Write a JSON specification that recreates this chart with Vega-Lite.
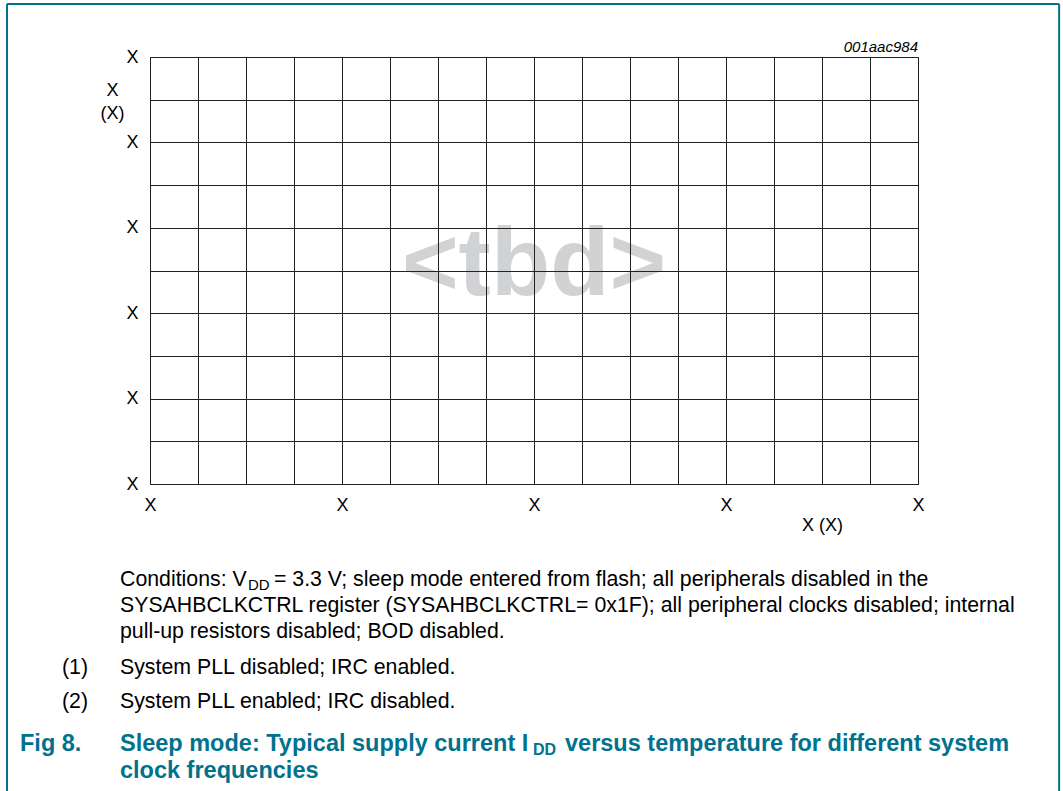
{
  "$schema": "https://vega.github.io/schema/vega-lite/v6.json",
  "width": 768,
  "height": 427,
  "autosize": {"type": "none"},
  "padding": {"left": 150, "top": 57, "right": 145, "bottom": 307},
  "background": "white",
  "config": {"view": {"stroke": "#111111", "strokeWidth": 1}, "font": "Liberation Sans"},
  "datasets": {
    "watermark": [{"label": "<tbd>", "x": 8, "y": 4.43}],
    "code": [{"label": "001aac984", "x": 16, "y": 10.12}],
    "frame": [
      {"x": -2.979, "x2": -2.979, "y": -7.6, "y2": 11.241},
      {"x": 18.94, "x2": 18.94, "y": -7.6, "y2": 11.241},
      {"x": -2.979, "x2": 18.94, "y": 11.241, "y2": 11.241}
    ],
    "notes": [
      {"role": "body", "label": "Conditions: V", "x": -0.625, "y": -2.389},
      {"role": "bodysub", "label": "DD", "x": 2.042, "y": -2.482},
      {"role": "body", "label": "= 3.3 V; sleep mode entered from flash; all peripherals disabled in the", "x": 2.583, "y": -2.389},
      {"role": "body", "label": "SYSAHBCLKCTRL register (SYSAHBCLKCTRL= 0x1F); all peripheral clocks disabled; internal", "x": -0.625, "y": -2.998},
      {"role": "body", "label": "pull-up resistors disabled; BOD disabled.", "x": -0.625, "y": -3.607},
      {"role": "body", "label": "(1)", "x": -1.833, "y": -4.45},
      {"role": "body", "label": "System PLL disabled; IRC enabled.", "x": -0.625, "y": -4.45},
      {"role": "body", "label": "(2)", "x": -1.833, "y": -5.246},
      {"role": "body", "label": "System PLL enabled; IRC disabled.", "x": -0.625, "y": -5.246},
      {"role": "fig", "label": "Fig 8.", "x": -2.708, "y": -6.253},
      {"role": "fig", "label": "Sleep mode: Typical supply current I", "x": -0.625, "y": -6.253},
      {"role": "figsub", "label": "DD", "x": 7.979, "y": -6.347},
      {"role": "fig", "label": "versus temperature for different system", "x": 8.646, "y": -6.253},
      {"role": "fig", "label": "clock frequencies", "x": -0.625, "y": -6.885}
    ]
  },
  "layer": [
    {
      "data": {"name": "watermark"},
      "mark": {"type": "text", "font": "Liberation Sans", "fontWeight": "bold", "fontSize": 97, "color": "#d1d2d4", "align": "center", "baseline": "alphabetic"},
      "encoding": {
        "x": {
          "field": "x", "type": "quantitative",
          "scale": {"domain": [0, 16], "nice": false, "zero": false},
          "axis": {
            "values": [0, 1, 2, 3, 4, 5, 6, 7, 8, 9, 10, 11, 12, 13, 14, 15, 16],
            "labelExpr": "datum.value % 4 == 0 ? 'X' : ''",
            "grid": true, "gridColor": "#222222", "gridWidth": 1, "gridOpacity": 1,
            "ticks": false, "domain": false,
            "labelFont": "Liberation Sans", "labelFontSize": 18, "labelColor": "#000000",
            "labelPadding": 12, "labelBaseline": "top", "labelAlign": "center",
            "labelOverlap": false, "labelFlush": false,
            "title": "X (X)", "titleFont": "Liberation Sans", "titleFontSize": 18, "titleFontWeight": "normal",
            "titleColor": "#000000", "titleX": 672, "titleY": 46, "titleAlign": "center", "titleBaseline": "alphabetic",
            "zindex": 1
          }
        },
        "y": {
          "field": "y", "type": "quantitative",
          "scale": {"domain": [0, 10], "nice": false, "zero": false},
          "axis": {
            "values": [0, 1, 2, 3, 4, 5, 6, 7, 8, 9, 10],
            "labelExpr": "datum.value % 2 == 0 ? 'X' : ''",
            "grid": true, "gridColor": "#222222", "gridWidth": 1, "gridOpacity": 1,
            "ticks": false, "domain": false,
            "labelFont": "Liberation Sans", "labelFontSize": 18, "labelColor": "#000000",
            "labelPadding": 12, "labelBaseline": "middle", "labelAlign": "right",
            "labelOverlap": false, "labelFlush": false,
            "title": ["X", "(X)"], "titleFont": "Liberation Sans", "titleFontSize": 18, "titleFontWeight": "normal",
            "titleColor": "#000000", "titleAngle": 0, "titleX": -38, "titleY": 38, "titleAlign": "center",
            "titleBaseline": "alphabetic", "titleLineHeight": 23,
            "zindex": 1
          }
        },
        "text": {"field": "label"}
      }
    },
    {
      "data": {"name": "code"},
      "mark": {"type": "text", "font": "Liberation Sans", "fontStyle": "italic", "fontSize": 15, "color": "#000000", "align": "right", "baseline": "alphabetic"},
      "encoding": {
        "x": {"field": "x", "type": "quantitative"},
        "y": {"field": "y", "type": "quantitative"},
        "text": {"field": "label"}
      }
    },
    {
      "data": {"name": "frame"},
      "mark": {"type": "rule", "color": "#00728e", "strokeWidth": 2},
      "encoding": {
        "x": {"field": "x", "type": "quantitative"},
        "x2": {"field": "x2"},
        "y": {"field": "y", "type": "quantitative"},
        "y2": {"field": "y2"}
      }
    },
    {
      "data": {"name": "notes"},
      "transform": [{"filter": "datum.role == 'body'"}],
      "mark": {"type": "text", "font": "Liberation Sans", "fontSize": 21.3, "color": "#000000", "align": "left", "baseline": "alphabetic"},
      "encoding": {
        "x": {"field": "x", "type": "quantitative"},
        "y": {"field": "y", "type": "quantitative"},
        "text": {"field": "label"}
      }
    },
    {
      "data": {"name": "notes"},
      "transform": [{"filter": "datum.role == 'bodysub'"}],
      "mark": {"type": "text", "font": "Liberation Sans", "fontSize": 15, "color": "#000000", "align": "left", "baseline": "alphabetic"},
      "encoding": {
        "x": {"field": "x", "type": "quantitative"},
        "y": {"field": "y", "type": "quantitative"},
        "text": {"field": "label"}
      }
    },
    {
      "data": {"name": "notes"},
      "transform": [{"filter": "datum.role == 'fig'"}],
      "mark": {"type": "text", "font": "Liberation Sans", "fontWeight": "bold", "fontSize": 23.5, "color": "#00728e", "align": "left", "baseline": "alphabetic"},
      "encoding": {
        "x": {"field": "x", "type": "quantitative"},
        "y": {"field": "y", "type": "quantitative"},
        "text": {"field": "label"}
      }
    },
    {
      "data": {"name": "notes"},
      "transform": [{"filter": "datum.role == 'figsub'"}],
      "mark": {"type": "text", "font": "Liberation Sans", "fontWeight": "bold", "fontSize": 16, "color": "#00728e", "align": "left", "baseline": "alphabetic"},
      "encoding": {
        "x": {"field": "x", "type": "quantitative"},
        "y": {"field": "y", "type": "quantitative"},
        "text": {"field": "label"}
      }
    }
  ]
}
